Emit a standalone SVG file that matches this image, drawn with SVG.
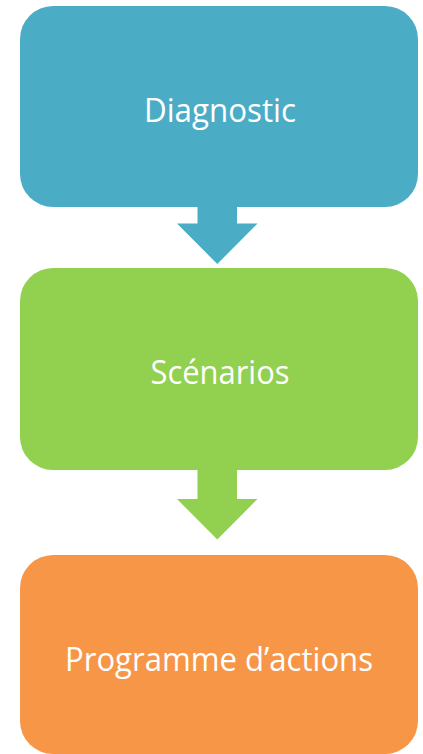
<svg xmlns="http://www.w3.org/2000/svg" width="423" height="754" viewBox="0 0 423 754">
<style>
.lbl{font-family:"Open Sans","Liberation Sans",sans-serif;font-size:32px;fill:#ffffff;text-anchor:middle}
</style>
<rect width="423" height="754" fill="#ffffff"/>
<g id="connectors">
<polygon points="197.5,206 237,206 237,223.5 257.5,223.5 217.3,264 177,223.5 197.5,223.5" fill="#4BACC6"/>
<polygon points="197.5,469 237,469 237,499 257.5,499 217.3,539.5 177,499 197.5,499" fill="#92D050"/>
</g>
<g id="diagnostic">
<rect x="20" y="6" width="398" height="201" rx="33" fill="#4BACC6"/>
<text class="lbl" x="220" y="122" textLength="152" lengthAdjust="spacingAndGlyphs">Diagnostic</text>
</g>
<g id="scenarios">
<rect x="20" y="268" width="398" height="202" rx="33" fill="#92D050"/>
<text class="lbl" x="220" y="384" textLength="139" lengthAdjust="spacingAndGlyphs">Scénarios</text>
</g>
<g id="programme">
<rect x="20" y="555" width="398" height="199" rx="33" fill="#F79646"/>
<text class="lbl" x="219" y="671" textLength="308" lengthAdjust="spacingAndGlyphs">Programme d’actions</text>
</g>
</svg>
